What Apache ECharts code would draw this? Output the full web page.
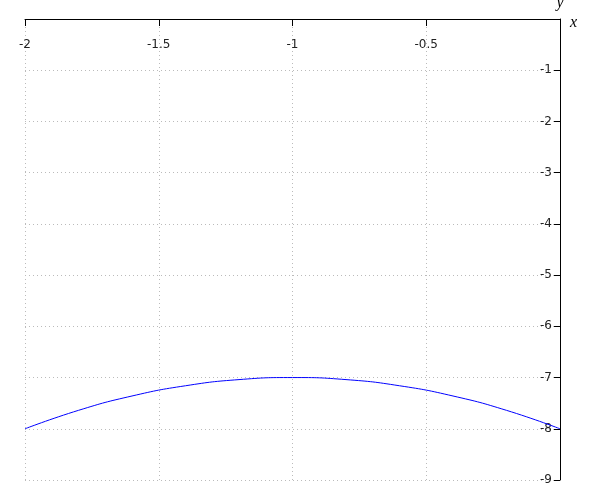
<!DOCTYPE html>
<html>
<head>
<meta charset="utf-8">
<script src="https://cdn.jsdelivr.net/npm/echarts@6/dist/echarts.min.js"></script>
<style>
  html, body { margin: 0; padding: 0; background: #fff; }
  #chart { width: 600px; height: 500px; }
</style>
</head>
<body>
<div id="chart"></div>
<script>
// values
const xValues = [-2, -1.8, -1.6, -1.4, -1.2, -1, -0.8, -0.6, -0.4, -0.2, 0]
const yValues = [-8, -7.64, -7.36, -7.16, -7.04, -7, -7.04, -7.16, -7.36, -7.64, -8]

const chart = echarts.init(document.getElementById('chart'))

const hideZero = v => (v === 0 ? '' : String(v))

chart.setOption({
  animation: false,
  grid: { left: 25, right: 40, top: 19, bottom: 20, containLabel: false, outerBoundsMode: 'none' },
  xAxis: {
    type: 'value',
    position: 'top',
    min: -2,
    max: 0,
    interval: 0.5,
    name: 'x',
    nameLocation: 'end',
    nameGap: 10,
    nameTextStyle: { fontFamily: 'Liberation Serif', fontStyle: 'italic', fontSize: 16, color: '#000', verticalAlign: 'top', lineHeight: 8 },
    axisLine: { onZero: false, lineStyle: { color: '#000', width: 1 } },
    axisTick: { inside: true, length: 7, lineStyle: { color: '#000' } },
    axisLabel: { inside: true, margin: 20, formatter: hideZero, color: '#222', fontFamily: 'DejaVu Sans', fontSize: 12 },
    splitLine: { show: true, lineStyle: { type: [1, 3], color: '#bbb' } }
  },
  yAxis: {
    type: 'value',
    position: 'right',
    min: -9,
    max: 0,
    interval: 1,
    name: 'y',
    nameLocation: 'end',
    nameGap: 8,
    nameTextStyle: { fontFamily: 'Liberation Serif', fontStyle: 'italic', fontSize: 16, color: '#000', align: 'center' },
    axisLine: { onZero: false, lineStyle: { color: '#000', width: 1 } },
    axisTick: { inside: true, length: 6, lineStyle: { color: '#000' } },
    axisLabel: { inside: true, margin: 8, formatter: hideZero, color: '#222', fontFamily: 'DejaVu Sans', fontSize: 12 },
    splitLine: { show: true, lineStyle: { type: [1, 3], color: '#bbb' } }
  },
  series: [
    {
      type: 'line',
      data: xValues.map((x, i) => [x, yValues[i]]),
      smooth: true,
      showSymbol: false,
      lineStyle: { color: '#0000ff', width: 1 }
    }
  ]
})
</script>
</body>
</html>
